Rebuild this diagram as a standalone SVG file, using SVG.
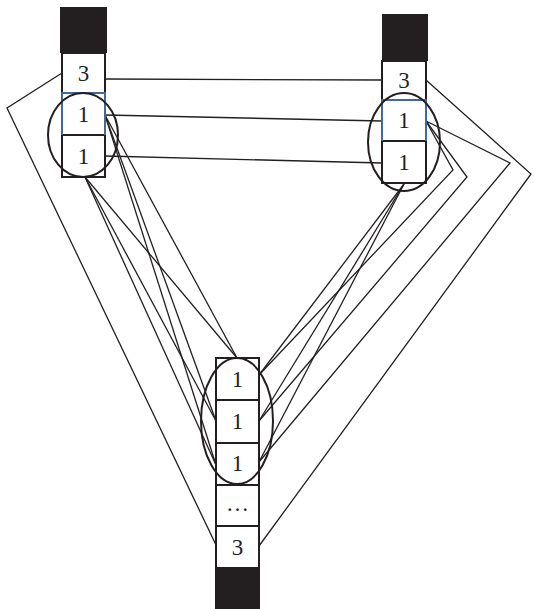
<svg xmlns="http://www.w3.org/2000/svg" width="534" height="609" viewBox="0 0 534 609">
<style>
.cell{fill:#fff;stroke:#231f20;stroke-width:2}
.blue{fill:none;stroke:#41699a;stroke-width:2}
.blk{fill:#231f20;stroke:none}
.ell{fill:none;stroke:#231f20;stroke-width:2}
.c{fill:none;stroke:#231f20;stroke-width:1.3}
text{font-family:"Liberation Serif","Times New Roman",serif;font-size:23px;fill:#231f20;text-anchor:middle}
</style>
<rect width="534" height="609" fill="#fff"/>
<g id="connectors">
<line class="c" x1="105" y1="79" x2="382" y2="80"/>
<line class="c" x1="105" y1="115" x2="382" y2="121"/>
<line class="c" x1="105" y1="156" x2="382" y2="163"/>
<polyline class="c" points="62,73 7,108 216,545"/>
<polyline class="c" points="426,80 531,174 259,546"/>
<line class="c" x1="105" y1="115" x2="237" y2="358"/>
<line class="c" x1="105" y1="115" x2="216" y2="421"/>
<line class="c" x1="105" y1="115" x2="216" y2="465"/>
<line class="c" x1="85" y1="177" x2="237" y2="358"/>
<line class="c" x1="85" y1="177" x2="216" y2="421"/>
<line class="c" x1="85" y1="177" x2="216" y2="465"/>
<line class="c" x1="404" y1="184" x2="259" y2="375"/>
<line class="c" x1="404" y1="184" x2="259" y2="421"/>
<line class="c" x1="404" y1="184" x2="259" y2="462"/>
<polyline class="c" points="426,121 453,170 259,375"/>
<polyline class="c" points="426,121 467,177 259,421"/>
<polyline class="c" points="426,121 510,163 259,462"/>
</g>
<g id="node-left">
<rect class="blk" x="60" y="7" width="47" height="46"/>
<rect class="cell" x="62" y="53" width="43" height="40"/>
<rect class="cell" x="62" y="93" width="43" height="42"/>
<rect class="cell" x="62" y="135" width="43" height="42"/>
<polyline class="blue" points="62,135 62,93 105,93 105,135"/>
<text x="83.5" y="81">3</text>
<text x="83.5" y="122">1</text>
<text x="83.5" y="164">1</text>
<ellipse class="ell" cx="83" cy="135" rx="35" ry="42"/>
</g>
<g id="node-right">
<rect class="blk" x="382" y="14" width="46" height="47"/>
<rect class="cell" x="382" y="61" width="44" height="39"/>
<rect class="cell" x="382" y="100" width="44" height="41"/>
<rect class="cell" x="382" y="141" width="44" height="42"/>
<polyline class="blue" points="382,141 382,100 426,100 426,141"/>
<text x="404" y="88">3</text>
<text x="404" y="128">1</text>
<text x="404" y="170">1</text>
<ellipse class="ell" cx="404" cy="142" rx="36" ry="49"/>
</g>
<g id="node-bottom">
<rect class="cell" x="216" y="358" width="43" height="42"/>
<rect class="cell" x="216" y="400" width="43" height="43"/>
<rect class="cell" x="216" y="443" width="43" height="42"/>
<rect class="cell" x="216" y="485" width="43" height="41"/>
<rect class="cell" x="216" y="526" width="43" height="42"/>
<rect class="blk" x="215" y="568" width="45" height="41"/>
<text x="237.5" y="387">1</text>
<text x="237.5" y="429">1</text>
<text x="237.5" y="471">1</text>
<text x="237.5" y="511">…</text>
<text x="237.5" y="555">3</text>
<ellipse class="ell" cx="237" cy="421" rx="36" ry="63"/>
</g>
</svg>
